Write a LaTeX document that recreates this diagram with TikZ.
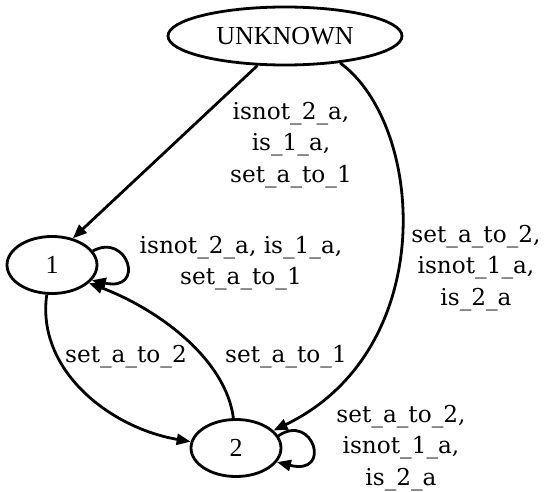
\documentclass[tikz,border=0pt]{standalone}
\usepackage{fontspec}
\setmainfont{Liberation Serif}
\newfontfamily\labelfont{DejaVu Serif}
\usetikzlibrary{arrows.meta,shapes.geometric}
\tikzset{
  state/.style={ellipse, draw, line width=2.8pt, inner sep=0pt,
    font=\fontsize{26}{28}\selectfont},
  trans/.style={line width=2.8pt, -{Triangle[length=14pt,width=11pt]}},
  tlabel/.style={align=center, inner sep=0pt,
    font=\labelfont\fontsize{23.2}{31.5}\selectfont},
}
\begin{document}
\begin{tikzpicture}[x=1pt,y=-1pt]
  \useasboundingbox (0,0) rectangle (560,492);
  % states
  \node[state, minimum width=234pt, minimum height=58pt] (unk) at (285,36) {UNKNOWN};
  \node[state, minimum width=90pt, minimum height=57pt] (s1) at (52,265) {1};
  \node[state, minimum width=90pt, minimum height=57pt] (s2) at (236,448) {2};
  % transition labels
  \node[tlabel] (l1) at (291,145) {isnot\_2\_a,\\is\_1\_a,\\set\_a\_to\_1};
  \node[tlabel] (l2) at (476,268) {set\_a\_to\_2,\\isnot\_1\_a,\\is\_2\_a};
  \node[tlabel] (l3) at (241,263) {isnot\_2\_a, is\_1\_a,\\set\_a\_to\_1};
  \node[tlabel] (l4) at (126,357) {set\_a\_to\_2};
  \node[tlabel] (l5) at (286,357) {set\_a\_to\_1};
  \node[tlabel] (l6) at (401,448) {set\_a\_to\_2,\\isnot\_1\_a,\\is\_2\_a};
  % transitions
  \draw[trans] (unk.-133) -- (s1.52);
  \draw[trans] (unk.-26) .. controls (425,125) and (440,350) .. (s2.25);
  \draw[trans] (s1.19) .. controls (128,232) and (146,292) .. (s1.-21);
  \draw[trans] (s1.-100) .. controls (36,370) and (110,428) .. (s2.172);
  \draw[trans] (s2.95) .. controls (226,360) and (160,310) .. (s1.-26);
  \draw[trans] (s2.16) .. controls (313,412) and (333,476) .. (s2.-19);
\end{tikzpicture}
\end{document}
